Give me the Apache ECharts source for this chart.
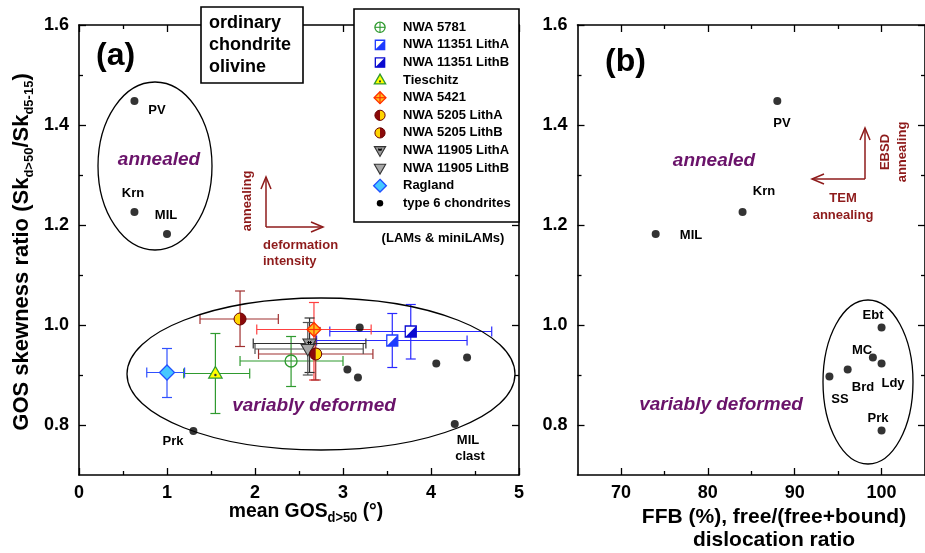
<!DOCTYPE html>
<html><head><meta charset="utf-8">
<script src="https://cdn.jsdelivr.net/npm/echarts@6/dist/echarts.min.js"></script>
<style>html,body{margin:0;padding:0;background:#fff}#c{width:925px;height:553px}</style>
</head><body><div id="c"></div>
<script>
// ---------------- DATA ----------------
const meteorites = ['NWA 5781','NWA 11351 LithA','NWA 11351 LithB','Tieschitz','NWA 5421','NWA 5205 LithA','NWA 5205 LithB','NWA 11905 LithA','NWA 11905 LithB','Ragland'];
const gosMean = [2.41, 3.56, 3.77, 1.55, 2.67, 2.69, 1.83, 2.62, 2.60, 1.00];
const gosLow  = [1.83, 2.70, 2.85, 1.19, 2.02, 2.04, 1.375, 1.98, 2.00, 0.77];
const gosHigh = [3.00, 4.41, 4.69, 1.94, 3.32, 3.34, 2.265, 3.26, 3.23, 1.20];
const skRatio = [0.928, 0.969, 0.987, 0.903, 0.991, 0.942, 1.012, 0.963, 0.952, 0.905];
const skLow   = [0.877, 0.915, 0.932, 0.823, 0.890, 0.890, 0.957, 0.905, 0.900, 0.855];
const skHigh  = [0.977, 1.023, 1.041, 0.983, 1.045, 0.995, 1.068, 1.014, 1.005, 0.953];

const type6Names = ['PV','Krn','MIL','Ebt','Brd','SS','Ldy','MC','Prk','MIL clast'];
const type6Gos   = [0.63, 0.63, 1.00, 3.19, 3.05, 3.17, 4.06, 4.41, 1.30, 4.27];
const type6Sk    = [1.448, 1.226, 1.182, 0.995, 0.911, 0.895, 0.923, 0.935, 0.788, 0.802];

const ffbNames = ['PV','Krn','MIL','Ebt','Brd','SS','Ldy','MC','Prk'];
const ffbPct   = [88, 84, 74, 100, 96.1, 94, 100, 99, 100];
const ffbSk    = [1.448, 1.226, 1.182, 0.995, 0.911, 0.897, 0.923, 0.935, 0.789];

const gosTicks = [0,1,2,3,4,5];
const gosMinor = [0.5,1.5,2.5,3.5,4.5];
const ffbTicks = [70,80,90,100];
const ffbMinor = [75,85,95];
const skTicks  = [0.8,1.0,1.2,1.4,1.6];
const skMinor  = [0.9,1.1,1.3,1.5];

// ---------------- STYLES ----------------
const NARROW = "'Liberation Sans Narrow','Liberation Sans',Arial,sans-serif";
const SANS = "'Liberation Sans',Arial,sans-serif";
const DARKRED = '#8e1b1b';
const PURPLE = '#6a136a';
const kinds = ['circlePlus','sqA','sqB','triDot','diamondCross','halfRY','halfYR','triDownStar','triDown','diamond','dot'];
const barColor = ['#2f9a2f','#2a2aff','#2a2aff','#2f9a2f','#ff4040','#a03030','#a03030','#303030','#505050','#3050ff'];
const zOrder = [3,6,7,2,8,9,5,4,4,1];

function mk(kind, x, y, s) {
  s = s || 1;
  const r = 6 * s;
  const els = [];
  if (kind === 'circlePlus') {
    els.push({type:'circle', shape:{cx:x, cy:y, r:r}, style:{fill:'#fff', stroke:'#2f9a2f', lineWidth:1.3}});
    els.push({type:'line', shape:{x1:x-r, y1:y, x2:x+r, y2:y}, style:{stroke:'#2f9a2f', lineWidth:1.1}});
    els.push({type:'line', shape:{x1:x, y1:y-r, x2:x, y2:y+r}, style:{stroke:'#2f9a2f', lineWidth:1.1}});
  } else if (kind === 'sqA' || kind === 'sqB') {
    const c = kind === 'sqA' ? '#1d3bff' : '#0a0ad0';
    const h = 5.5 * s;
    els.push({type:'rect', shape:{x:x-h, y:y-h, width:2*h, height:2*h}, style:{fill:'#fff', stroke:c, lineWidth:1.3}});
    els.push({type:'polygon', shape:{points:[[x+h,y-h],[x+h,y+h],[x-h,y+h]]}, style:{fill:c}});
  } else if (kind === 'triDot') {
    const h = 7 * s;
    els.push({type:'polygon', shape:{points:[[x,y-h],[x+h*0.95,y+h*0.65],[x-h*0.95,y+h*0.65]]}, style:{fill:'#ffff00', stroke:'#2f9a2f', lineWidth:1.3}});
    els.push({type:'circle', shape:{cx:x, cy:y+1.5*s, r:1.2*s}, style:{fill:'#333'}});
  } else if (kind === 'diamondCross') {
    const h = 7 * s;
    els.push({type:'polygon', shape:{points:[[x,y-h],[x+h,y],[x,y+h],[x-h,y]]}, style:{fill:'#ffc020', stroke:'#ff3000', lineWidth:1.3}});
    els.push({type:'line', shape:{x1:x-h, y1:y, x2:x+h, y2:y}, style:{stroke:'#ff3000', lineWidth:1.2}});
    els.push({type:'line', shape:{x1:x, y1:y-h, x2:x, y2:y+h}, style:{stroke:'#ff3000', lineWidth:1.2}});
  } else if (kind === 'halfRY' || kind === 'halfYR') {
    const L = kind === 'halfRY' ? '#8b0a0a' : '#ffd400';
    const R = kind === 'halfRY' ? '#ffd400' : '#8b0a0a';
    els.push({type:'sector', shape:{cx:x, cy:y, r0:0, r:r, startAngle:Math.PI/2, endAngle:Math.PI*1.5, clockwise:true}, style:{fill:L}});
    els.push({type:'sector', shape:{cx:x, cy:y, r0:0, r:r, startAngle:-Math.PI/2, endAngle:Math.PI/2, clockwise:true}, style:{fill:R}});
    els.push({type:'circle', shape:{cx:x, cy:y, r:r}, style:{fill:null, stroke:'#6a0000', lineWidth:1}});
  } else if (kind === 'triDownStar' || kind === 'triDown') {
    const h = 7 * s;
    els.push({type:'polygon', shape:{points:[[x-h*0.95,y-h*0.65],[x+h*0.95,y-h*0.65],[x,y+h]]}, style:{fill: kind==='triDown' ? '#a8a8a8' : '#9a9a9a', stroke:'#333', lineWidth:1.1}});
    if (kind === 'triDownStar') {
      const a = 2.3 * s, cy = y - 1 * s;
      els.push({type:'line', shape:{x1:x-a, y1:cy, x2:x+a, y2:cy}, style:{stroke:'#000', lineWidth:1}});
      els.push({type:'line', shape:{x1:x-a*0.7, y1:cy-a*0.7, x2:x+a*0.7, y2:cy+a*0.7}, style:{stroke:'#000', lineWidth:1}});
      els.push({type:'line', shape:{x1:x+a*0.7, y1:cy-a*0.7, x2:x-a*0.7, y2:cy+a*0.7}, style:{stroke:'#000', lineWidth:1}});
    }
  } else if (kind === 'diamond') {
    const h = 7.5 * s;
    els.push({type:'polygon', shape:{points:[[x,y-h],[x+h,y],[x,y+h],[x-h,y]]}, style:{fill:'#45c8ff', stroke:'#2050ff', lineWidth:1.3}});
  } else if (kind === 'dot') {
    els.push({type:'circle', shape:{cx:x, cy:y, r:3.8*s}, style:{fill:'#000'}});
  }
  return els;
}

// ---------------- AXES ----------------
function mkAxes(dim, grid, min, max, major, minor, fmt) {
  const pos = dim === 'x' ? ['bottom','top'] : ['left','right'];
  const line = {show:true, onZero:false, lineStyle:{color:'#000', width:1.6}};
  const noLine = {show:false, onZero:false};
  const tickStyle = {color:'#000', width:1.3};
  const base = {gridIndex:grid, type:'value', min:min, max:max, splitLine:{show:false}, silent:true};
  const lab = {show:true, customValues:major, formatter:fmt, color:'#000', fontFamily:NARROW, fontWeight:'bold', fontSize:18, margin: dim==='x' ? 9 : 10};
  return [
    Object.assign({}, base, {position:pos[0], axisLine:line, axisTick:{show:true, inside:true, length:7, customValues:major, lineStyle:tickStyle}, axisLabel:lab}),
    Object.assign({}, base, {position:pos[0], axisLine:noLine, axisTick:{show:true, inside:true, length:4, customValues:minor, lineStyle:tickStyle}, axisLabel:{show:false, customValues:minor}}),
    Object.assign({}, base, {position:pos[1], axisLine:line, axisTick:{show:true, inside:true, length:7, customValues:major, lineStyle:tickStyle}, axisLabel:{show:false, customValues:major}}),
    Object.assign({}, base, {position:pos[1], axisLine:noLine, axisTick:{show:true, inside:true, length:4, customValues:minor, lineStyle:tickStyle}, axisLabel:{show:false, customValues:minor}})
  ];
}
const fmtInt = v => String(Math.round(v));
const fmtY = v => v.toFixed(1);
const xAxes = mkAxes('x', 0, 0, 5, gosTicks, gosMinor, fmtInt).concat(mkAxes('x', 1, 65, 105, ffbTicks, ffbMinor, fmtInt));
const yAxes = mkAxes('y', 0, 0.7, 1.6, skTicks, skMinor, fmtY).concat(mkAxes('y', 1, 0.7, 1.6, skTicks, skMinor, fmtY));

// ---------------- SERIES DATA ----------------
const barData = meteorites.map((n, i) => [gosMean[i], skRatio[i], gosLow[i], gosHigh[i], skLow[i], skHigh[i], i]);
const markData = meteorites.map((n, i) => [gosMean[i], skRatio[i], i]);

function renderBars(params, api) {
  const i = api.value(6);
  const p = api.coord([api.value(0), api.value(1)]);
  const xl = api.coord([api.value(2), api.value(1)]);
  const xh = api.coord([api.value(3), api.value(1)]);
  const yl = api.coord([api.value(0), api.value(4)]);
  const yh = api.coord([api.value(0), api.value(5)]);
  const st = {stroke: barColor[i], lineWidth: 1.2};
  const c = 5;
  return {type:'group', children:[
    {type:'line', shape:{x1:xl[0], y1:p[1], x2:xh[0], y2:p[1]}, style:st},
    {type:'line', shape:{x1:xl[0], y1:p[1]-c, x2:xl[0], y2:p[1]+c}, style:st},
    {type:'line', shape:{x1:xh[0], y1:p[1]-c, x2:xh[0], y2:p[1]+c}, style:st},
    {type:'line', shape:{x1:p[0], y1:yl[1], x2:p[0], y2:yh[1]}, style:st},
    {type:'line', shape:{x1:p[0]-c, y1:yl[1], x2:p[0]+c, y2:yl[1]}, style:st},
    {type:'line', shape:{x1:p[0]-c, y1:yh[1], x2:p[0]+c, y2:yh[1]}, style:st}
  ]};
}
function renderMarks(params, api) {
  const i = api.value(2);
  const p = api.coord([api.value(0), api.value(1)]);
  const ch = mk(kinds[i], p[0], p[1], 1);
  ch.forEach(e => { e.z2 = zOrder[i]; });
  return {type:'group', children: ch};
}

// ---------------- ANNOTATIONS ----------------
function txt(t, x, y, font, fill, align, rot) {
  const e = {type:'text', x:x, y:y, z:50, style:{text:t, font:font, fill:fill||'#000', align:align||'center', textAlign:align||'center', verticalAlign:'middle', textVerticalAlign:'middle'}};
  if (rot) e.rotation = rot;
  return e;
}
function seg(x1,y1,x2,y2,c,w) { return {type:'line', z:50, shape:{x1,y1,x2,y2}, style:{stroke:c||'#000', lineWidth:w||1.5}}; }
function poly(pts,c,w) { return {type:'polyline', z:50, shape:{points:pts}, style:{stroke:c, lineWidth:w||1.5, fill:null}}; }
const B13 = 'bold 13px ' + SANS;
const PI2 = Math.PI/2;
const g = [];
// panel (a)
g.push(txt('(a)', 96, 56, 'bold 32px ' + SANS, '#000', 'left'));
g.push({type:'rect', z:45, shape:{x:201, y:7, width:102, height:76}, style:{fill:'#fff', stroke:'#000', lineWidth:1.6}});
g.push(txt('ordinary', 209, 23, 'bold 18px ' + SANS, '#000', 'left'));
g.push(txt('chondrite', 209, 45, 'bold 18px ' + SANS, '#000', 'left'));
g.push(txt('olivine', 209, 67, 'bold 18px ' + SANS, '#000', 'left'));
g.push({type:'ellipse', z:40, shape:{cx:155, cy:166, rx:57, ry:84}, style:{fill:null, stroke:'#000', lineWidth:1.3}});
g.push(txt('annealed', 159, 160, 'italic bold 19px ' + SANS, PURPLE));
g.push(txt('PV', 157, 110, B13));
g.push(txt('Krn', 133, 193, B13));
g.push(txt('MIL', 166, 215, B13));
g.push(seg(266,227,266,177,DARKRED)); g.push(poly([[261,189],[266,177],[271,189]],DARKRED));
g.push(seg(266,227,323,227,DARKRED)); g.push(poly([[311,222],[323,227],[311,232]],DARKRED));
g.push(txt('annealing', 247, 201, B13, DARKRED, 'center', PI2));
g.push(txt('deformation', 263, 245, B13, DARKRED, 'left'));
g.push(txt('intensity', 263, 261, B13, DARKRED, 'left'));
g.push({type:'ellipse', z:40, shape:{cx:321, cy:374, rx:194, ry:76}, style:{fill:null, stroke:'#000', lineWidth:1.3}});
g.push(txt('variably deformed', 314, 406, 'italic bold 19px ' + SANS, PURPLE));
g.push(txt('Prk', 173, 441, B13));
g.push(txt('MIL', 468, 440, B13));
g.push(txt('clast', 470, 456, B13));
// legend
g.push({type:'rect', z:45, shape:{x:354, y:9, width:165, height:213}, style:{fill:'#fff', stroke:'#000', lineWidth:1.6}});
const legNames = meteorites.concat(['type 6 chondrites']);
legNames.forEach((n, i) => {
  const yy = 27.3 + i * 17.6;
  mk(kinds[i], 380, yy, 0.85).forEach(e => { e.z = 48; g.push(e); });
  g.push(txt(n, 403, yy, B13, '#000', 'left'));
});
g.push(txt('(LAMs & miniLAMs)', 443, 238, B13));
// axis titles
g.push({type:'text', x:22, y:252, z:50, rotation:PI2, style:{
  text:'{m|GOS skewness ratio (Sk}{s|d>50}{m|/Sk}{s|d5-15}{m|)}', align:'center', textAlign:'center', verticalAlign:'middle', textVerticalAlign:'middle',
  rich:{m:{font:'bold 22px ' + SANS, fill:'#000'}, s:{font:'bold 13px ' + SANS, fill:'#000', padding:[14,0,0,0]}}}});
g.push({type:'text', x:306, y:511, z:50, scaleX:0.92, style:{
  text:'{m|mean GOS}{s|d>50}{m| (°)}', align:'center', textAlign:'center', verticalAlign:'middle', textVerticalAlign:'middle',
  rich:{m:{font:'bold 21px ' + NARROW, fill:'#000'}, s:{font:'bold 14px ' + NARROW, fill:'#000', padding:[14,0,0,0]}}}});
g.push(txt('FFB (%), free/(free+bound)', 774, 517, 'bold 21px ' + NARROW));
g.push(txt('dislocation ratio', 774, 540, 'bold 21px ' + NARROW));
// panel (b)
g.push(txt('(b)', 605, 62, 'bold 32px ' + SANS, '#000', 'left'));
g.push(txt('PV', 782, 123, B13));
g.push(txt('Krn', 764, 191, B13));
g.push(txt('MIL', 691, 235, B13));
g.push(txt('annealed', 714, 161, 'italic bold 19px ' + SANS, PURPLE));
g.push(seg(865,179,865,128,DARKRED)); g.push(poly([[860,140],[865,128],[870,140]],DARKRED));
g.push(seg(865,179,812,179,DARKRED)); g.push(poly([[824,174],[812,179],[824,184]],DARKRED));
g.push(txt('TEM', 843, 198, B13, DARKRED));
g.push(txt('annealing', 843, 215, B13, DARKRED));
g.push(txt('EBSD', 885, 152, B13, DARKRED, 'center', PI2));
g.push(txt('annealing', 902, 152, B13, DARKRED, 'center', PI2));
g.push({type:'ellipse', z:40, shape:{cx:868, cy:382, rx:45, ry:82}, style:{fill:null, stroke:'#000', lineWidth:1.3}});
g.push(txt('Ebt', 873, 315, B13));
g.push(txt('MC', 862, 350, B13));
g.push(txt('Ldy', 893, 383, B13));
g.push(txt('Brd', 863, 387, B13));
g.push(txt('SS', 840, 399, B13));
g.push(txt('Prk', 878, 418, B13));
g.push(txt('variably deformed', 721, 405, 'italic bold 19px ' + SANS, PURPLE));

// ---------------- CHART ----------------
const chart = echarts.init(document.getElementById('c'), null, {renderer:'canvas'});
chart.setOption({
  animation: false,
  backgroundColor: '#fff',
  grid: [
    {left:79, top:25, width:440, height:450},
    {left:577.5, top:25, width:356, height:450}
  ],
  xAxis: xAxes,
  yAxis: yAxes,
  series: [
    {type:'custom', name:'errbars', xAxisIndex:0, yAxisIndex:0, renderItem:renderBars, data:barData, z:2, silent:true},
    {type:'custom', name:'markers', xAxisIndex:0, yAxisIndex:0, renderItem:renderMarks, data:markData, z:3, silent:true},
    {type:'scatter', name:'type 6 chondrites', xAxisIndex:0, yAxisIndex:0, data:type6Gos.map((v,i)=>[v, type6Sk[i]]), symbol:'circle', symbolSize:8, itemStyle:{color:'#000'}, z:4, silent:true},
    {type:'scatter', name:'type 6 chondrites FFB', xAxisIndex:4, yAxisIndex:4, data:ffbPct.map((v,i)=>[v, ffbSk[i]]), symbol:'circle', symbolSize:8, itemStyle:{color:'#000'}, z:4, silent:true}
  ],
  graphic: g
});
</script></body></html>
